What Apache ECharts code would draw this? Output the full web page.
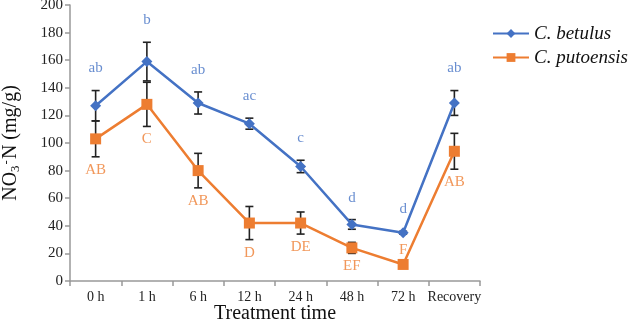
<!DOCTYPE html>
<html>
<head>
<meta charset="utf-8">
<script src="https://cdn.jsdelivr.net/npm/echarts@6/dist/echarts.min.js"></script>
<style>
html, body { margin: 0; padding: 0; background: #fff; }
#chart { width: 629px; height: 322px; }
</style>
</head>
<body>
<div id="chart"></div>
<script>
var categories = ['0 h', '1 h', '6 h', '12 h', '24 h', '48 h', '72 h', 'Recovery'];
var betulus = [127, 159, 129, 114, 83, 41, 35, 129];
var betulusErr = [11, 14, 8, 4, 4.5, 3.5, 1, 9];
var betulusLetters = ['ab', 'b', 'ab', 'ac', 'c', 'd', 'd', 'ab'];
var putoensis = [103, 128, 80, 42, 42, 24, 12, 94];
var putoensisErr = [13, 16, 12.5, 12, 8, 4, 2, 13];
var putoensisLetters = ['AB', 'C', 'AB', 'D', 'DE', 'EF', 'F', 'AB'];
var yTicks = [0, 20, 40, 60, 80, 100, 120, 140, 160, 180, 200];

var BLUE = '#4472c4';
var ORANGE = '#ed7d31';
var FONT = '"Liberation Serif", "DejaVu Serif", serif';

// error bar data: [index, low, high]
function errData(vals, errs) {
    return vals.map(function (v, i) { return [i, v - errs[i], v + errs[i]]; });
}

function renderErr(params, api) {
    var x = api.value(0);
    var lo = api.coord([x, api.value(1)]);
    var hi = api.coord([x, api.value(2)]);
    var half = 4;
    var style = { stroke: '#222', lineWidth: 1.6 };
    return {
        type: 'group',
        children: [
            { type: 'line', shape: { x1: hi[0], y1: hi[1], x2: lo[0], y2: lo[1] }, style: style },
            { type: 'line', shape: { x1: hi[0] - half, y1: hi[1], x2: hi[0] + half, y2: hi[1] }, style: style },
            { type: 'line', shape: { x1: lo[0] - half, y1: lo[1], x2: lo[0] + half, y2: lo[1] }, style: style }
        ]
    };
}

var betulusLabelData = betulus.map(function (v, i) {
    return { value: [i, v + betulusErr[i]], name: betulusLetters[i] };
});
var putoensisLabelData = putoensis.map(function (v, i) {
    // "F" at 72 h sits above the point in the original
    if (putoensisLetters[i] === 'F') {
        return { value: [i, v + putoensisErr[i]], name: putoensisLetters[i], label: { position: 'top', distance: 4 } };
    }
    return { value: [i, v - putoensisErr[i]], name: putoensisLetters[i] };
});

var chart = echarts.init(document.getElementById('chart'));
chart.setOption({
    animation: false,
    textStyle: { fontFamily: FONT },
    grid: { left: 70, right: 149, top: 5, bottom: 41, containLabel: false, outerBoundsMode: 'none' },
    legend: {
        data: ['C. betulus', 'C. putoensis'],
        orient: 'vertical',
        left: 487,
        top: 19,
        itemWidth: 36,
        itemHeight: 11,
        itemGap: 5,
        textStyle: { fontFamily: FONT, fontSize: 19, fontStyle: 'italic', color: '#111' }
    },
    xAxis: {
        type: 'category',
        data: categories,
        boundaryGap: true,
        name: 'Treatment time',
        nameLocation: 'middle',
        nameGap: 23,
        nameMoveOverlap: false,
        nameTextStyle: { fontFamily: FONT, fontSize: 20, color: '#111' },
        axisLine: { lineStyle: { color: '#999', width: 1.5 } },
        axisTick: { show: true, alignWithLabel: false, length: 5, lineStyle: { color: '#999', width: 1.5 } },
        axisLabel: { fontFamily: FONT, fontSize: 14, color: '#222', margin: 9, interval: 0 }
    },
    yAxis: {
        type: 'value',
        min: yTicks[0],
        max: yTicks[yTicks.length - 1],
        interval: 20,
        name: 'NO{sub|3}{sup|-}N (mg/g)',
        nameLocation: 'middle',
        nameRotate: 90,
        nameGap: 48,
        nameMoveOverlap: false,
        nameTextStyle: {
            fontFamily: FONT, fontSize: 20, color: '#111',
            rich: {
                sub: { fontFamily: FONT, fontSize: 13, color: '#111', verticalAlign: 'bottom', padding: [9, 0, 0, 0] },
                sup: { fontFamily: FONT, fontSize: 13, color: '#111', verticalAlign: 'top', padding: [0, 1, 8, 1] }
            }
        },
        splitLine: { show: false },
        axisLine: { show: true, lineStyle: { color: '#999', width: 1.5 } },
        axisTick: { show: true, length: 5, lineStyle: { color: '#999', width: 1.5 } },
        axisLabel: { fontFamily: FONT, fontSize: 15, color: '#222', margin: 7 }
    },
    series: [
        {
            name: 'betulus err',
            type: 'custom',
            renderItem: renderErr,
            data: errData(betulus, betulusErr),
            z: 1,
            silent: true
        },
        {
            name: 'putoensis err',
            type: 'custom',
            renderItem: renderErr,
            data: errData(putoensis, putoensisErr),
            z: 1,
            silent: true
        },
        {
            name: 'C. betulus',
            type: 'line',
            data: betulus,
            symbol: 'diamond',
            symbolSize: 11,
            lineStyle: { color: BLUE, width: 2.5 },
            itemStyle: { color: BLUE },
            z: 3
        },
        {
            name: 'C. putoensis',
            type: 'line',
            data: putoensis,
            symbol: 'rect',
            symbolSize: 11,
            lineStyle: { color: ORANGE, width: 2.5 },
            itemStyle: { color: ORANGE },
            z: 2
        },
        {
            name: 'betulus letters',
            type: 'scatter',
            symbol: 'circle',
            symbolSize: 1,
            itemStyle: { color: 'rgba(0,0,0,0)' },
            data: betulusLabelData,
            label: {
                show: true, position: 'top', distance: 14,
                formatter: '{b}', fontFamily: FONT, fontSize: 15, color: BLUE
            },
            silent: true,
            z: 4
        },
        {
            name: 'putoensis letters',
            type: 'scatter',
            symbol: 'circle',
            symbolSize: 1,
            itemStyle: { color: 'rgba(0,0,0,0)' },
            data: putoensisLabelData,
            label: {
                show: true, position: 'bottom', distance: 5,
                formatter: '{b}', fontFamily: FONT, fontSize: 15, color: ORANGE
            },
            silent: true,
            z: 4
        }
    ]
});
</script>
</body>
</html>
